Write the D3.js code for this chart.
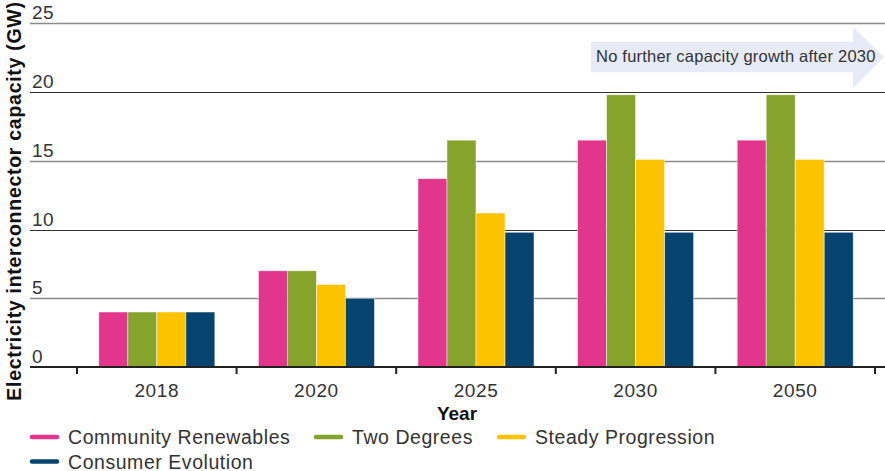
<!DOCTYPE html>
<html><head><meta charset="utf-8">
<script src="https://cdn.jsdelivr.net/npm/d3@7"></script>
<style>
body{margin:0;background:#fff;}
svg{display:block;font-family:"Liberation Sans",Arial,sans-serif;}
</style></head>
<body><div id="chart"></div>
<script>
const years = ["2018","2020","2025","2030","2050"];
const seriesNames = ["Community Renewables","Two Degrees","Steady Progression","Consumer Evolution"];
const seriesColors = ["#e2368c","#86a32c","#fcc300","#06446f"];
const communityRenewables = [4, 7, 13.7, 16.5, 16.5];
const twoDegrees = [4, 7, 16.5, 19.8, 19.8];
const steadyProgression = [4, 6, 11.2, 15.1, 15.1];
const consumerEvolution = [4, 5, 9.8, 9.8, 9.8];
const yTicks = [0,5,10,15,20,25];
const annotation = "No further capacity growth after 2030";

const seriesValues = [communityRenewables, twoDegrees, steadyProgression, consumerEvolution];
const W = 885, H = 471;
const svg = d3.select("#chart").append("svg").attr("width",W).attr("height",H);

const y = d3.scaleLinear().domain([0,25]).range([367,23.3]);
const x0 = d3.scaleBand().domain(years).range([77,875]).paddingInner(0.273).paddingOuter(0.1365);
const x1 = d3.scaleBand().domain(seriesNames).range([0,x0.bandwidth()]);

// gridlines
svg.append("g").selectAll("line").data(yTicks.filter(d=>d>0)).join("line")
  .attr("x1",30).attr("x2",W).attr("y1",d=>Math.round(y(d))+0.5).attr("y2",d=>Math.round(y(d))+0.5)
  .attr("stroke",d=>(d%10===0)?"#333":"#8a8a8a").attr("stroke-width",d=>(d%10===0)?1.2:1.3);

// y tick labels
svg.append("g").selectAll("text").data(yTicks).join("text")
  .attr("x",32).attr("y",d=>y(d)-4).text(d=>d)
  .attr("font-size",19).attr("letter-spacing",0.4).attr("fill","#333");

// bars
const groups = svg.append("g").selectAll("g").data(years).join("g")
  .attr("transform",d=>`translate(${x0(d)},0)`);
groups.selectAll("rect").data((yr,i)=>seriesNames.map((s,j)=>({s,j,v:seriesValues[j][i]}))).join("rect")
  .attr("x",d=>x1(d.s)).attr("width",x1.bandwidth())
  .attr("y",d=>y(d.v)).attr("height",d=>y(0)-y(d.v))
  .attr("fill",d=>seriesColors[d.j])
  .attr("stroke","rgba(255,255,255,0.6)").attr("stroke-width",0.8);

// x axis
const xAxisG = svg.append("g");
xAxisG.append("line").attr("x1",30).attr("x2",W).attr("y1",367).attr("y2",367)
  .attr("stroke","#222").attr("stroke-width",2.2);
const bounds = years.map(d=>x0(d)-x0.step()*x0.paddingInner()/2).concat([x0(years[years.length-1])+x0.bandwidth()+x0.step()*x0.paddingInner()/2]);
xAxisG.selectAll("line.tick").data(bounds).join("line").attr("class","tick")
  .attr("x1",d=>d).attr("x2",d=>d).attr("y1",367).attr("y2",374)
  .attr("stroke","#222").attr("stroke-width",2);
xAxisG.selectAll("text").data(years).join("text")
  .attr("x",d=>x0(d)+x0.bandwidth()/2).attr("y",397).attr("text-anchor","middle")
  .attr("font-size",19).attr("letter-spacing",0.6).attr("fill","#333").text(d=>d);

// axis titles
svg.append("text").attr("x",457).attr("y",420).attr("text-anchor","middle")
  .attr("font-size",19).attr("font-weight","bold").attr("fill","#111").text("Year");
svg.append("text").attr("transform","translate(21,201) rotate(-90)").attr("text-anchor","middle")
  .attr("font-size",19.5).attr("letter-spacing",0.72).attr("font-weight","bold").attr("fill","#111")
  .text("Electricity interconnector capacity (GW)");

// annotation arrow
svg.append("path")
  .attr("d","M591,41.7 L853,41.7 L853,26.7 L884,57 L853,88.3 L853,72.3 L591,72.3 Z")
  .attr("fill","#e6ebf7");
svg.append("text").attr("x",596).attr("y",62).attr("font-size",16.5).attr("letter-spacing",0.22).attr("fill","#333").text(annotation);

// legend
const legendPos = [[30,437],[314,437],[497,437],[30,461.5]];
const lg = svg.append("g").selectAll("g").data(seriesNames).join("g")
  .attr("transform",(d,i)=>`translate(${legendPos[i][0]},${legendPos[i][1]})`);
lg.append("line").attr("x1",2).attr("x2",27).attr("y1",0).attr("y2",0)
  .attr("stroke",(d,i)=>seriesColors[i]).attr("stroke-width",4.5).attr("stroke-linecap","round");
lg.append("text").attr("x",38).attr("y",7).attr("font-size",19.5).attr("letter-spacing",0.55).attr("fill","#333").text(d=>d);
</script>
</body></html>
